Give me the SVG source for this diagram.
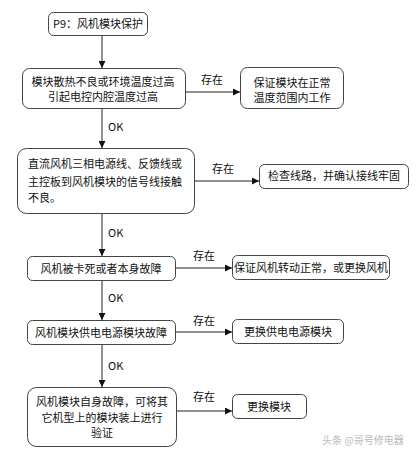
<svg xmlns="http://www.w3.org/2000/svg" width="420" height="456" viewBox="0 0 420 456">
<style>
.box{fill:#fff;stroke:#444;stroke-width:1}
.t{font-family:"Noto Sans CJK SC","Liberation Sans",sans-serif;font-size:11px;fill:#111}
.c{text-anchor:middle}
.lab{font-family:"Noto Sans CJK SC","Liberation Sans",sans-serif;font-size:11px;fill:#111}
.ln{stroke:#222;stroke-width:1;fill:none;marker-end:url(#ah)}
.wm{font-family:"Noto Sans CJK SC",sans-serif;font-size:10px;fill:#bbb}
</style>
<defs>
<marker id="ah" viewBox="0 0 8 8" refX="8" refY="4" markerWidth="7" markerHeight="7" markerUnits="userSpaceOnUse" orient="auto">
<path d="M0,0 L8,4 L0,8 z" fill="#111"/>
</marker>
</defs>
<rect width="420" height="456" fill="#fff"/>
<g id="connectors">
<line class="ln" x1="102" y1="35" x2="102" y2="68"/>
<line class="ln" x1="102" y1="108" x2="102" y2="148"/>
<line class="ln" x1="102" y1="213" x2="102" y2="256"/>
<line class="ln" x1="102" y1="280" x2="102" y2="320"/>
<line class="ln" x1="102" y1="344" x2="102" y2="387"/>
<line class="ln" x1="185" y1="92" x2="240" y2="92"/>
<line class="ln" x1="194" y1="181" x2="259" y2="181"/>
<line class="ln" x1="175" y1="268" x2="232" y2="268"/>
<line class="ln" x1="175" y1="332" x2="232" y2="332"/>
<line class="ln" x1="176" y1="411" x2="232" y2="411"/>
<text class="lab" x="108" y="131">OK</text>
<text class="lab" x="108" y="237">OK</text>
<text class="lab" x="108" y="302">OK</text>
<text class="lab" x="108" y="370">OK</text>
<text class="lab" x="201" y="84">存在</text>
<text class="lab" x="212" y="173">存在</text>
<text class="lab" x="193" y="260">存在</text>
<text class="lab" x="193" y="325">存在</text>
<text class="lab" x="193" y="401">存在</text>
</g>
<g id="n1"><rect class="box" x="48.5" y="12.5" width="99" height="23" rx="5"/><text class="t c" x="98" y="28">P9：风机模块保护</text></g>
<g id="n2"><rect class="box" x="22.5" y="68.5" width="163" height="40" rx="7"/><text class="t c" x="103" y="86">模块散热不良或环境温度过高</text><text class="t c" x="103" y="101">引起电控内腔温度过高</text></g>
<g id="n3"><rect class="box" x="240.5" y="67.5" width="103" height="41" rx="7"/><text class="t c" x="292" y="87">保证模块在正常</text><text class="t c" x="292" y="102">温度范围内工作</text></g>
<g id="n4"><rect class="box" x="17.5" y="148.5" width="177" height="65" rx="9"/><text class="t" x="28" y="168">直流风机三相电源线、反馈线或</text><text class="t" x="28" y="186">主控板到风机模块的信号线接触</text><text class="t" x="28" y="202">不良。</text></g>
<g id="n5"><rect class="box" x="259.5" y="164.5" width="149" height="24" rx="5"/><text class="t c" x="334" y="180">检查线路，并确认接线牢固</text></g>
<g id="n6"><rect class="box" x="27.5" y="256.5" width="148" height="24" rx="5"/><text class="t c" x="101" y="273">风机被卡死或者本身故障</text></g>
<g id="n7"><rect class="box" x="232.5" y="255.5" width="157" height="24" rx="5"/><text class="t c" x="311" y="272">保证风机转动正常，或更换风机</text></g>
<g id="n8"><rect class="box" x="27.5" y="320.5" width="148" height="24" rx="5"/><text class="t c" x="101" y="337">风机模块供电电源模块故障</text></g>
<g id="n9"><rect class="box" x="232.5" y="319.5" width="111" height="24" rx="5"/><text class="t c" x="288" y="336">更换供电电源模块</text></g>
<g id="n10"><rect class="box" x="27.5" y="387.5" width="149" height="59" rx="9"/><text class="t c" x="102" y="406">风机模块自身故障，可将其</text><text class="t c" x="102" y="422">它机型上的模块装上进行</text><text class="t c" x="102" y="437">验证</text></g>
<g id="n11"><rect class="box" x="232.5" y="394.5" width="74" height="24" rx="5"/><text class="t c" x="269" y="411">更换模块</text></g>
<text class="wm" x="322" y="444">头条 @哥号修电器</text>
</svg>
